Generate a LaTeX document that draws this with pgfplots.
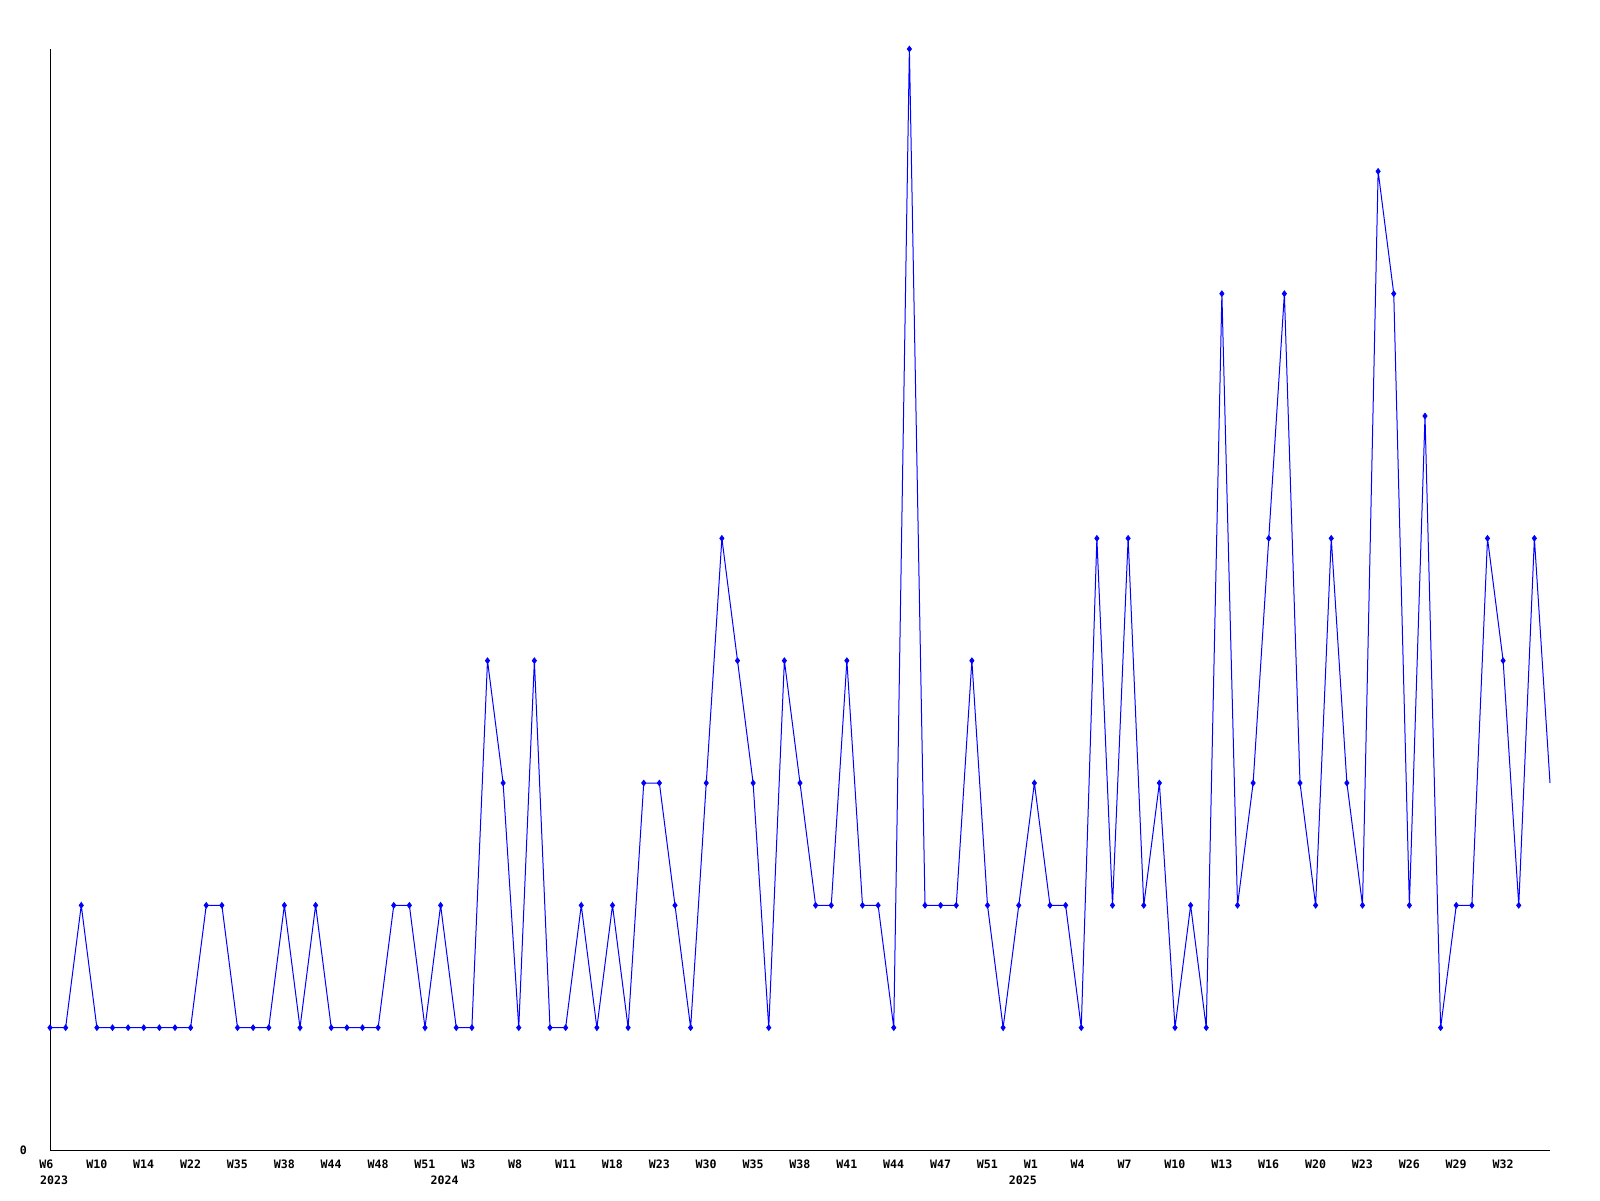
\documentclass[border=0pt]{standalone}
\usepackage{pgfplots}
\pgfplotsset{compat=1.18}
\usepackage{pgfplotstable}
\usetikzlibrary{calc}
\usepackage{fontspec}
\setmonofont{DejaVu Sans Mono}
\newcommand{\tickfont}{\ttfamily\bfseries\fontsize{5.8}{7}\selectfont}
\pgfplotstableread{
x y
0 1
1 1
2 2
3 1
4 1
5 1
6 1
7 1
8 1
9 1
10 2
11 2
12 1
13 1
14 1
15 2
16 1
17 2
18 1
19 1
20 1
21 1
22 2
23 2
24 1
25 2
26 1
27 1
28 4
29 3
30 1
31 4
32 1
33 1
34 2
35 1
36 2
37 1
38 3
39 3
40 2
41 1
42 3
43 5
44 4
45 3
46 1
47 4
48 3
49 2
50 2
51 4
52 2
53 2
54 1
55 9
56 2
57 2
58 2
59 4
60 2
61 1
62 2
63 3
64 2
65 2
66 1
67 5
68 2
69 5
70 2
71 3
72 1
73 2
74 1
75 7
76 2
77 3
78 5
79 7
80 3
81 2
82 5
83 3
84 2
85 8
86 7
87 2
88 6
89 1
90 2
91 2
92 5
93 4
94 2
95 5
96 3
}\datatable
\begin{document}
\begin{tikzpicture}
\begin{axis}[
  name=ax,
  scale only axis,
  width=750pt, height=550.5pt,
  xmin=0, xmax=96, ymin=0, ymax=9,
  axis x line*=bottom, axis y line*=left,
  axis line style={black, line width=0.5pt},
  major tick length=0pt,
  xtick={0,3,...,93},
  xticklabels={W6,W10,W14,W22,W35,W38,W44,W48,W51,W3,W8,W11,W18,W23,W30,W35,W38,W41,W44,W47,W51,W1,W4,W7,W10,W13,W16,W20,W23,W26,W29,W32},
  xticklabel style={font=\tickfont, anchor=north west, xshift=-8.8pt, yshift=-1.5pt},
  ytick={0}, yticklabels={0},
  yticklabel style={font=\tickfont, anchor=east, xshift=-8pt},
  extra x ticks={0,25,62},
  extra x tick labels={2023,2024,2025},
  extra x tick style={major tick length=0pt, xticklabel style={anchor=north west, xshift=0.3pt, yshift=-7.9pt}},
  clip=false,
]
\addplot[blue, line width=0.5pt, mark=none] table[x=x,y=y]{\datatable};
\addplot[blue, only marks, mark=diamond*, mark size=1.4pt, restrict x to domain=0:95] table[x=x,y=y]{\datatable};
\end{axis}
\pgfresetboundingbox
\useasboundingbox ($(ax.south west)+(-25pt,-25pt)$) rectangle ($(ax.north east)+(25pt,24.5pt)$);
\end{tikzpicture}
\end{document}
